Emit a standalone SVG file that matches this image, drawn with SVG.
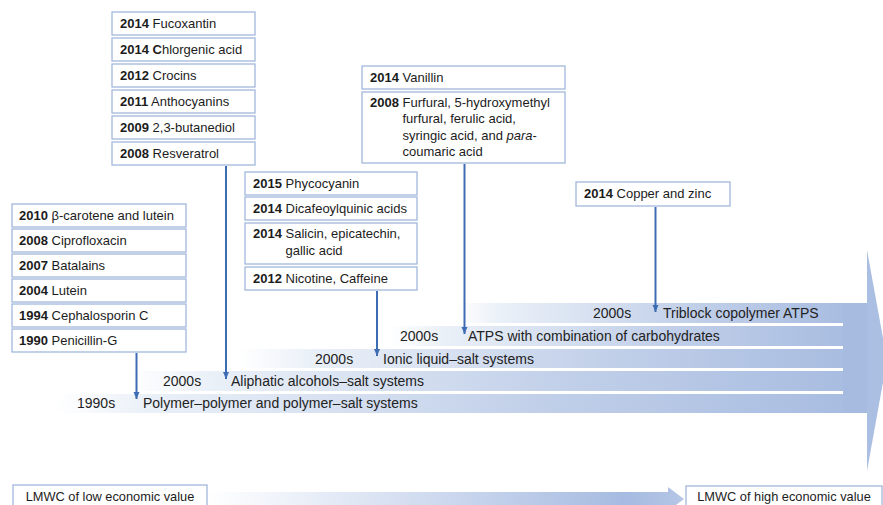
<svg xmlns="http://www.w3.org/2000/svg" width="883" height="505" viewBox="0 0 883 505">
<style>
.bx{fill:#fff;stroke:#a3b8dc;stroke-width:1.3}
text{font-family:"Liberation Sans",Arial,Helvetica,sans-serif;fill:#1c1c1c}
.t{font-size:13px}
.b{font-weight:bold}
.bt{font-size:14px;fill:#222}
.lt{font-size:12.8px;text-anchor:middle}
.con line{stroke:#3d6cb4;stroke-width:2;marker-end:url(#ah)}
</style>
<defs>
<linearGradient id="band" x1="0" y1="0" x2="1" y2="0">
<stop offset="0" stop-color="#ffffff"/>
<stop offset="0.12" stop-color="#eaf0f8"/>
<stop offset="0.6" stop-color="#c2d0e9"/>
<stop offset="1" stop-color="#a9bde1"/>
</linearGradient>
<linearGradient id="low" x1="0" y1="0" x2="1" y2="0">
<stop offset="0" stop-color="#ffffff"/>
<stop offset="0.5" stop-color="#ccd8ee"/>
<stop offset="0.88" stop-color="#a6bbe1"/>
<stop offset="1" stop-color="#b5c6e6"/>
</linearGradient>
<marker id="ah" markerUnits="userSpaceOnUse" markerWidth="8" markerHeight="8" refX="7" refY="3" orient="auto">
<path d="M0,0 L7,3 L0,6 z" fill="#3d6cb4"/>
</marker>
</defs>

<g id="big-arrow">
<rect x="843" y="303" width="25" height="110" fill="#a6bbdf"/>
<polygon points="867,250 887,360 867,471" fill="#abbfe3"/>
</g>

<g id="band-triblock">
<rect x="455" y="303" width="388" height="20" fill="url(#band)"/>
<text class="bt" x="593" y="318">2000s</text>
<text class="bt" x="663" y="318">Triblock copolymer ATPS</text>
</g>
<g id="band-carbohydrates">
<rect x="390" y="326" width="453" height="20" fill="url(#band)"/>
<text class="bt" x="400" y="341">2000s</text>
<text class="bt" x="468" y="341">ATPS with combination of carbohydrates</text>
</g>
<g id="band-ionic">
<rect x="240" y="349" width="603" height="19" fill="url(#band)"/>
<text class="bt" x="315" y="364">2000s</text>
<text class="bt" x="383" y="364">Ionic liquid–salt systems</text>
</g>
<g id="band-aliphatic">
<rect x="128" y="371" width="715" height="20" fill="url(#band)"/>
<text class="bt" x="163" y="386">2000s</text>
<text class="bt" x="231" y="386">Aliphatic alcohols–salt systems</text>
</g>
<g id="band-polymer">
<rect x="55" y="394" width="788" height="19" fill="url(#band)"/>
<text class="bt" x="77" y="408">1990s</text>
<text class="bt" x="143" y="408">Polymer–polymer and polymer–salt systems</text>
</g>

<g id="col-alcohols">
<rect class="bx" x="112" y="12" width="143" height="23"/>
<text class="t" x="120" y="28"><tspan class="b">2014</tspan> Fucoxantin</text>
<rect class="bx" x="112" y="38" width="143" height="23"/>
<text class="t" x="120" y="54"><tspan class="b">2014 C</tspan>hlorgenic acid</text>
<rect class="bx" x="112" y="64" width="143" height="23"/>
<text class="t" x="120" y="80"><tspan class="b">2012</tspan> Crocins</text>
<rect class="bx" x="112" y="90" width="143" height="23"/>
<text class="t" x="120" y="106"><tspan class="b">2011</tspan> Anthocyanins</text>
<rect class="bx" x="112" y="116" width="143" height="23"/>
<text class="t" x="120" y="132"><tspan class="b">2009</tspan> 2,3-butanediol</text>
<rect class="bx" x="112" y="142" width="143" height="23"/>
<text class="t" x="120" y="158"><tspan class="b">2008</tspan> Resveratrol</text>
</g>

<g id="col-polymer">
<rect class="bx" x="12" y="204" width="174" height="23"/>
<text class="t" x="19" y="220"><tspan class="b">2010</tspan> β-carotene and lutein</text>
<rect class="bx" x="12" y="229" width="174" height="23"/>
<text class="t" x="19" y="245"><tspan class="b">2008</tspan> Ciprofloxacin</text>
<rect class="bx" x="12" y="254" width="174" height="23"/>
<text class="t" x="19" y="270"><tspan class="b">2007</tspan> Batalains</text>
<rect class="bx" x="12" y="279" width="174" height="23"/>
<text class="t" x="19" y="295"><tspan class="b">2004</tspan> Lutein</text>
<rect class="bx" x="12" y="304" width="174" height="23"/>
<text class="t" x="19" y="320"><tspan class="b">1994</tspan> Cephalosporin C</text>
<rect class="bx" x="12" y="329" width="174" height="23"/>
<text class="t" x="19" y="345"><tspan class="b">1990</tspan> Penicillin-G</text>
</g>

<g id="col-ionic">
<rect class="bx" x="245" y="172" width="172" height="23"/>
<text class="t" x="253" y="188"><tspan class="b">2015</tspan> Phycocyanin</text>
<rect class="bx" x="245" y="197" width="172" height="23"/>
<text class="t" x="253" y="213"><tspan class="b">2014</tspan> Dicafeoylquinic acids</text>
<rect class="bx" x="245" y="223" width="172" height="41"/>
<text class="t" x="253" y="238"><tspan class="b">2014</tspan> Salicin, epicatechin,</text>
<text class="t" x="285.5" y="255">gallic acid</text>
<rect class="bx" x="245" y="267" width="172" height="23"/>
<text class="t" x="253" y="283"><tspan class="b">2012</tspan> Nicotine, Caffeine</text>
</g>

<g id="col-carbohydrates">
<rect class="bx" x="362" y="66" width="203" height="23"/>
<text class="t" x="370" y="82"><tspan class="b">2014</tspan> Vanillin</text>
<rect class="bx" x="362" y="92" width="203" height="71"/>
<text class="t" x="370" y="107"><tspan class="b">2008</tspan> Furfural, 5-hydroxymethyl</text>
<text class="t" x="402.5" y="123">furfural, ferulic acid,</text>
<text class="t" x="402.5" y="139.5">syringic acid, and <tspan font-style="italic">para</tspan>-</text>
<text class="t" x="402.5" y="156">coumaric acid</text>
</g>

<g id="col-triblock">
<rect class="bx" x="576" y="182" width="154" height="24"/>
<text class="t" x="584" y="198"><tspan class="b">2014</tspan> Copper and zinc</text>
</g>

<g id="value-axis">
<polygon points="207,492 668,492 668,487 684,499 668,511 668,506 207,506" fill="url(#low)"/>
<rect class="bx" x="13" y="485" width="194" height="26"/>
<text class="lt" x="110" y="501">LMWC of low economic value</text>
<rect class="bx" x="686" y="486" width="196" height="25"/>
<text class="lt" x="784" y="501">LMWC of high economic value</text>
</g>

<g id="connectors" class="con">
<line x1="136.5" y1="353" x2="136.5" y2="399"/>
<line x1="226" y1="166" x2="226" y2="379"/>
<line x1="377" y1="291" x2="377" y2="356"/>
<line x1="464.5" y1="164" x2="464.5" y2="334"/>
<line x1="655.5" y1="207" x2="655.5" y2="312"/>
</g>
</svg>
